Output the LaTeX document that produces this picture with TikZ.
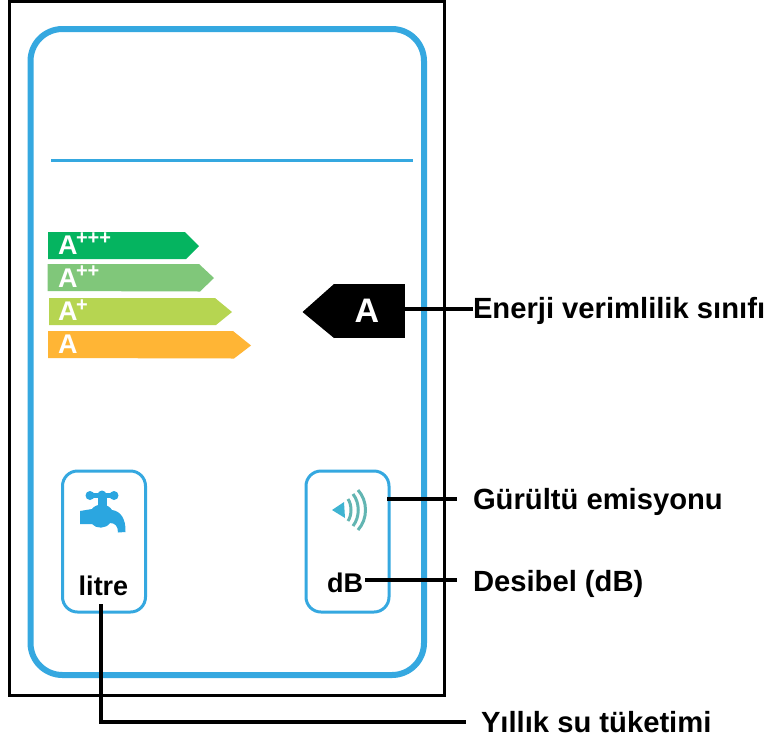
\documentclass[tikz,border=0pt]{standalone}
\usepackage{fontspec}
\setmainfont{Liberation Sans}
\usetikzlibrary{calc}
\definecolor{frameblue}{HTML}{35A8E0}
\definecolor{tapblue}{HTML}{2BA6E0}
\definecolor{conecol}{HTML}{3FB4D2}
\definecolor{wavecol}{HTML}{62B5B2}
\definecolor{barone}{HTML}{05B460}
\definecolor{bartwo}{HTML}{80C77A}
\definecolor{barthree}{HTML}{B6D551}
\definecolor{barfour}{HTML}{FFB535}
\newcommand{\fsz}[1]{\fontsize{#1}{#1}\selectfont}
\tikzset{
  every node/.style={inner sep=0pt,outer sep=0pt},
  outerframe/.style={draw=black,line width=3pt},
  blueframe/.style={draw=frameblue,line width=6pt,rounded corners=32pt},
  iconbox/.style={draw=frameblue,line width=3pt,rounded corners=15pt,minimum width=83pt,minimum height=141pt},
  conn/.style={draw=black,line width=3.4pt},
  barlabel/.style={text=white,font=\fsz{27}\bfseries,anchor=base west},
  barplus/.style={text=white,font=\fsz{20}\bfseries,anchor=west},
  calloutlabel/.style={text=black,font=\fsz{29.2}\bfseries,anchor=west},
  boxlabel/.style={text=black,font=\fsz{27}\bfseries}
}
\begin{document}
\begin{tikzpicture}[x=1pt,y=-1pt]
\useasboundingbox (0,0) rectangle (769,740);
\fill[white] (0,0) rectangle (769,740);
\draw[outerframe] (9,1.5) rectangle (444,695);
\draw[blueframe] (30.5,29) rectangle (424,675);
\draw[frameblue,line width=3pt] (51,160.5) -- (413,160.5);
% energy bars
\fill[barone] (48,232) -- (185,232) -- (199,246) -- (186,259) -- (48,259) -- cycle;
\fill[bartwo] (47.5,264) -- (199,264) -- (214,278) -- (200,291.5) -- (47.5,291) -- cycle;
\fill[barthree] (49,298) -- (215,298) -- (232,312) -- (216,325) -- (49,325) -- cycle;
\fill[barfour] (48,331) -- (233,331) -- (251,345.5) -- (234,358.5) -- (48,358) -- cycle;
\node[barlabel] (aone) at (58,254.5) {A};
\node[barplus] (pone) at (76,239) {+++};
\node[barlabel] (atwo) at (58,287) {A};
\node[barplus] (ptwo) at (76,272) {++};
\node[barlabel] (athree) at (58,320.5) {A};
\node[barplus] (pthree) at (76,306) {+};
\node[barlabel] (afour) at (58,353) {A};
% class badge
\node[fill=black,text=white,font=\fsz{34}\bfseries,minimum width=71pt,minimum height=54pt] (badge) at (369.5,311) {\hspace*{-5pt}A};
\fill[black] (badge.north west) -- (302.5,312) -- (badge.south west) -- cycle;
% icon boxes
\node[iconbox] (tapbox) at (104,541.5) {};
\node[iconbox] (speakerbox) at (347.5,541.5) {};
\node[boxlabel] (litre) at (103.5,586) {litre};
\node[boxlabel] (db) at (345,582.5) {dB};
% tap
\begin{scope}[tapblue]
\fill (90,495.5) circle (4.5pt) (102,495) circle (4.5pt) (114,495.5) circle (4.5pt);
\draw[line width=4.5pt] (90,495.5) -- (114,495.5);
\fill (97.5,495) rectangle (106.5,508);
\fill (80,511) -- (92,509) .. controls (96,503) and (108,503) .. (112,510)
  .. controls (120,511) and (126,518) .. (125.5,532)
  -- (118,532.5) .. controls (118,526) and (115,523) .. (110,523)
  .. controls (106,529) and (96,529) .. (92,524) -- (80,524) -- cycle;
\end{scope}
% speaker
\fill[conecol] (332,510) -- (344,502) -- (345,518) -- cycle;
\draw[wavecol,line width=3pt] (348,499) .. controls (352,505) and (352,515) .. (348,521);
\draw[wavecol,line width=3pt] (353,494) .. controls (360,503) and (360,517) .. (353,526);
\draw[wavecol,line width=3pt] (358,490) .. controls (368,501) and (368,519) .. (358,530);
% callout labels
\node[calloutlabel] (enerji) at (473,311) {Enerji verimlilik sınıfı};
\node[calloutlabel,inner xsep=16pt] (gurultu) at (457,502) {Gürültü emisyonu};
\node[calloutlabel,inner xsep=16pt] (desibel) at (457,584) {Desibel (dB)};
\node[calloutlabel,inner xsep=15pt] (yillik) at (466,722) {Yıllık su tüketimi};
% connectors
\coordinate (badgeout) at (405,309);
\coordinate (speakerout) at (387,499);
\coordinate (dbout) at (365,580);
\coordinate (litreout) at (101,604);
\draw[conn] (badgeout) -- (enerji.west |- badgeout);
\draw[conn] (speakerout) -- (gurultu.west |- speakerout);
\draw[conn] (dbout) -- (desibel.west |- dbout);
\draw[conn] (litreout) |- (yillik.west);
\end{tikzpicture}
\end{document}
